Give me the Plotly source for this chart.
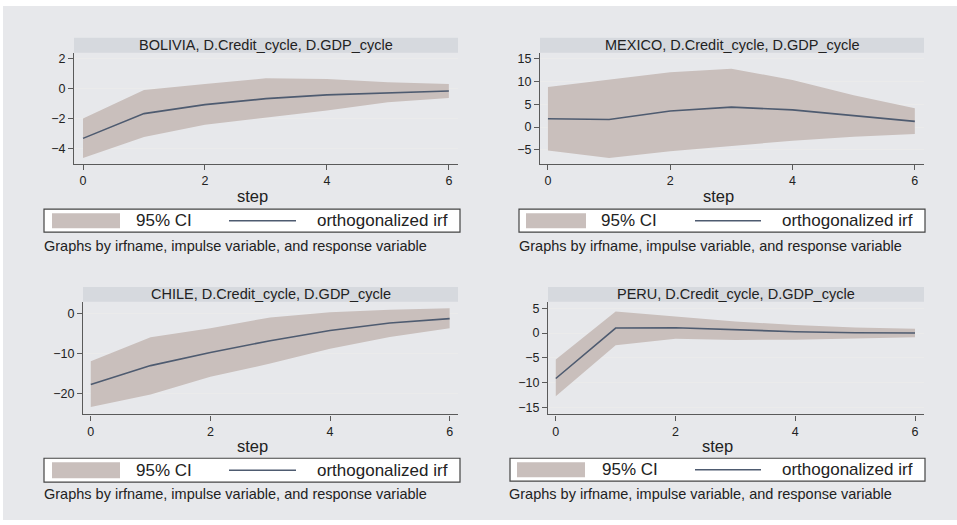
import plotly.graph_objects as go

# Impulse-response results: response of D.GDP_cycle to D.Credit_cycle shock
steps = [0, 1, 2, 3, 4, 5, 6]

bolivia_irf = [-3.33, -1.67, -1.07, -0.67, -0.42, -0.27, -0.16]
bolivia_upper = [-2.0, -0.09, 0.31, 0.69, 0.64, 0.42, 0.31]
bolivia_lower = [-4.64, -3.24, -2.42, -1.96, -1.47, -0.91, -0.62]

mexico_irf = [1.8, 1.65, 3.5, 4.35, 3.76, 2.46, 1.23]
mexico_upper = [8.76, 10.3, 12.0, 12.75, 10.3, 6.96, 4.13]
mexico_lower = [-5.15, -6.8, -5.3, -4.13, -2.98, -2.1, -1.52]

chile_irf = [-17.75, -13.0, -9.7, -6.75, -4.2, -2.3, -1.2]
chile_upper = [-11.9, -5.9, -3.6, -0.9, 0.4, 1.0, 1.4]
chile_lower = [-23.4, -20.25, -15.8, -12.5, -8.8, -5.8, -3.6]

peru_irf = [-9.13, 1.0, 1.07, 0.6, 0.27, 0.07, 0.0]
peru_upper = [-5.3, 4.3, 3.3, 2.3, 1.6, 1.1, 0.87]
peru_lower = [-12.7, -2.47, -1.13, -1.4, -1.33, -1.07, -0.87]

titles = [
    "BOLIVIA, D.Credit_cycle, D.GDP_cycle",
    "MEXICO, D.Credit_cycle, D.GDP_cycle",
    "CHILE, D.Credit_cycle, D.GDP_cycle",
    "PERU, D.Credit_cycle, D.GDP_cycle",
]
x_ticks = [0, 2, 4, 6]
y_ticks = [[-4, -2, 0, 2], [-5, 0, 5, 10, 15], [-20, -10, 0], [-15, -10, -5, 0, 5]]
legend_labels = ["95% CI", "orthogonalized irf"]
note_text = "Graphs by irfname, impulse variable, and response variable"
x_title = "step"

series = [
    (bolivia_irf, bolivia_lower, bolivia_upper),
    (mexico_irf, mexico_lower, mexico_upper),
    (chile_irf, chile_lower, chile_upper),
    (peru_irf, peru_lower, peru_upper),
]

W, H = 957, 525
FONT = "Liberation Sans, Arial, sans-serif"
BG = "#e7e8eb"
STRIP = "#d6d9de"
CI_FILL = "#c9bfbc"
IRF_LINE = "#4e5b70"
AXIS = "#5a5a5a"
GRID = "#ebebeb"
TEXT = "#222222"

# Panel geometry in pixels: plot box (left, right, top, bottom), axis ranges
panels = [
    dict(box=(74, 458, 52, 164), xr=(-0.148, 6.15), yr=(-5.07, 2.4),
         legend=(44, 460, 209, 232), swatch=(52, 120), ci_x=134, line=(229, 296), irf_x=450,
         step=(252, 196), note=(42, 246)),
    dict(box=(540, 924, 52, 164), xr=(-0.13, 6.15), yr=(-8.17, 16.24),
         legend=(519, 925, 209, 232), swatch=(526, 586), ci_x=599, line=(695, 761), irf_x=915,
         step=(718, 196), note=(517, 246)),
    dict(box=(83, 458, 302, 415), xr=(-0.13, 6.14), yr=(-25.25, 3.0),
         legend=(44, 460, 459, 483), swatch=(52, 120), ci_x=134, line=(229, 296), irf_x=450,
         step=(252, 447), note=(42, 495)),
    dict(box=(548, 924, 302, 415), xr=(-0.13, 6.15), yr=(-16.34, 6.26),
         legend=(510, 925, 459, 482), swatch=(517, 585), ci_x=600, line=(695, 761), irf_x=915,
         step=(717, 447), note=(507, 495)),
]


def px(x):
    return x / W


def py(y):
    return 1 - y / H


fig = go.Figure()
shapes = []
annotations = []

# grey page area inside a thin white border
shapes.append(dict(type="rect", xref="paper", yref="paper", layer="below",
                   x0=px(3), x1=px(957), y0=py(521), y1=py(5),
                   fillcolor=BG, line=dict(width=0)))

for i, (p, (irf, lo, hi), title, yt) in enumerate(zip(panels, series, titles, y_ticks)):
    n = "" if i == 0 else str(i + 1)
    xa, ya = "x" + n, "y" + n
    l, r, t, b = p["box"]

    fig.add_trace(go.Scatter(x=steps, y=lo, xaxis=xa, yaxis=ya, mode="lines",
                             line=dict(width=0), hoverinfo="skip", showlegend=False))
    fig.add_trace(go.Scatter(x=steps, y=hi, xaxis=xa, yaxis=ya, mode="lines",
                             line=dict(width=0), fill="tonexty", fillcolor=CI_FILL,
                             name=legend_labels[0], showlegend=False))
    fig.add_trace(go.Scatter(x=steps, y=irf, xaxis=xa, yaxis=ya, mode="lines",
                             line=dict(color=IRF_LINE, width=1.6),
                             name=legend_labels[1], showlegend=False))

    fig.layout["xaxis" + n] = dict(
        domain=[px(l), px(r)], range=list(p["xr"]), anchor=ya,
        tickvals=x_ticks, ticks="outside", ticklen=5, tickcolor=AXIS,
        showline=True, linecolor=AXIS, linewidth=1.2, showgrid=False, zeroline=False,
        tickfont=dict(family=FONT, size=12.5, color=TEXT), fixedrange=True)
    fig.layout["yaxis" + n] = dict(
        domain=[py(b), py(t)], range=list(p["yr"]), anchor=xa,
        tickvals=yt, ticks="outside", ticklen=5, tickcolor=AXIS,
        showline=True, linecolor=AXIS, linewidth=1.2, showgrid=True, gridcolor=GRID,
        gridwidth=1, zeroline=False,
        tickfont=dict(family=FONT, size=12.5, color=TEXT), fixedrange=True)

    # title strip
    shapes.append(dict(type="rect", xref="paper", yref="paper", layer="below",
                       x0=px(l), x1=px(r), y0=py(t), y1=py(t - 15),
                       fillcolor=STRIP, line=dict(width=0)))
    annotations.append(dict(text=title, xref="paper", yref="paper",
                            x=px((l + r) / 2), y=py(t - 7.5), showarrow=False,
                            xanchor="center", yanchor="middle",
                            font=dict(family=FONT, size=14.5, color=TEXT)))

    # x-axis title
    sx, sy = p["step"]
    annotations.append(dict(text=x_title, xref="paper", yref="paper", x=px(sx), y=py(sy),
                            showarrow=False, xanchor="center", yanchor="middle",
                            font=dict(family=FONT, size=16.5, color=TEXT)))

    # legend box
    L0, L1, T0, T1 = p["legend"]
    shapes.append(dict(type="rect", xref="paper", yref="paper",
                       x0=px(L0), x1=px(L1), y0=py(T1), y1=py(T0),
                       fillcolor="white", line=dict(color="#444444", width=1.2)))
    s0, s1 = p["swatch"]
    shapes.append(dict(type="rect", xref="paper", yref="paper",
                       x0=px(s0), x1=px(s1), y0=py(T1 - 4), y1=py(T0 + 4),
                       fillcolor=CI_FILL, line=dict(width=0)))
    mid = (T0 + T1) / 2
    l0, l1 = p["line"]
    shapes.append(dict(type="line", xref="paper", yref="paper",
                       x0=px(l0), x1=px(l1), y0=py(mid), y1=py(mid),
                       line=dict(color=IRF_LINE, width=1.5)))
    annotations.append(dict(text=legend_labels[0], xref="paper", yref="paper",
                            x=px(p["ci_x"]), y=py(mid), showarrow=False,
                            xanchor="left", yanchor="middle",
                            font=dict(family=FONT, size=17, color=TEXT)))
    annotations.append(dict(text=legend_labels[1], xref="paper", yref="paper",
                            x=px(p["irf_x"]), y=py(mid), showarrow=False,
                            xanchor="right", yanchor="middle",
                            font=dict(family=FONT, size=17, color=TEXT)))

    # note
    nx, ny = p["note"]
    annotations.append(dict(text=note_text, xref="paper", yref="paper",
                            x=px(nx), y=py(ny), showarrow=False,
                            xanchor="left", yanchor="middle",
                            font=dict(family=FONT, size=14.5, color=TEXT)))

fig.update_layout(
    width=W, height=H, margin=dict(l=0, r=0, t=0, b=0),
    paper_bgcolor="white", plot_bgcolor="white",
    shapes=shapes, annotations=annotations, showlegend=False,
)

fig.write_html("out.html", config={"displayModeBar": False})
